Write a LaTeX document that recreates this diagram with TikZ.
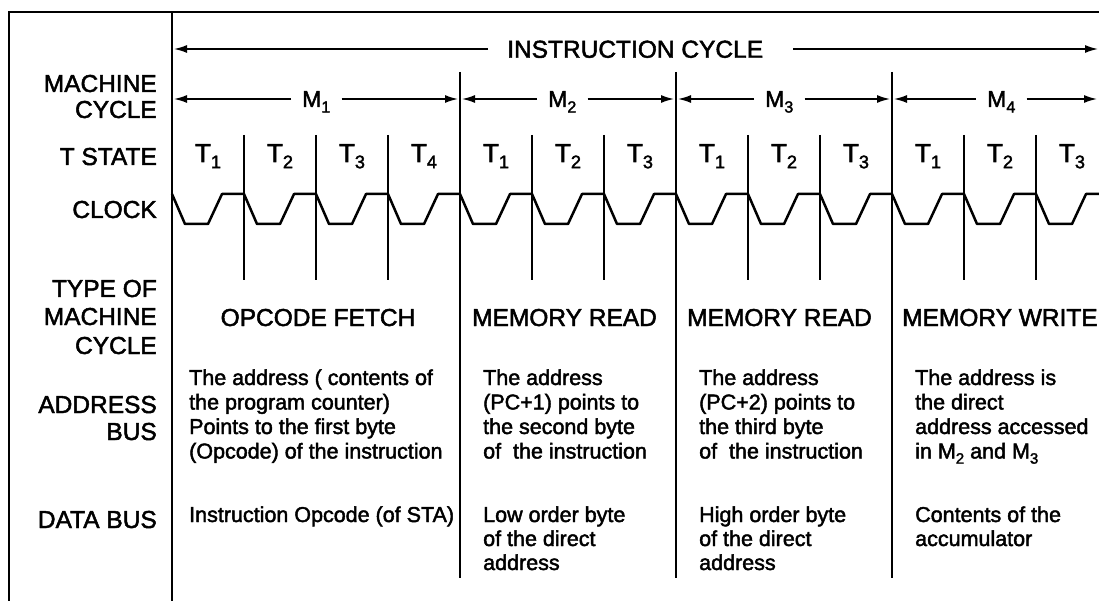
\documentclass[tikz,border=0pt]{standalone}
\usepackage{fontspec}
\usepackage{graphicx}
\setmainfont{Liberation Sans}[FakeBold=2]
\usetikzlibrary{arrows.meta}
\newcommand\lowsub[1]{\raisebox{-0.24em}{\scalebox{0.7}{#1}}}
\begin{document}
\begin{tikzpicture}[x=1pt,y=-1pt,
  lbl/.style={font=\fontsize{24.5}{27}\selectfont, inner sep=0pt, anchor=base east},
  hdr/.style={font=\fontsize{24.5}{27}\selectfont, inner sep=0pt},
  body/.style={font=\fontsize{21.5}{24.5}\selectfont, inner sep=0pt, anchor=base west},
  tlab/.style={font=\fontsize{26}{28}\selectfont, inner sep=0pt, anchor=base},
  mlab/.style={font=\fontsize{23}{24}\selectfont, inner ysep=0pt, inner xsep=11pt, anchor=west, text height=16pt, text depth=0pt},
  arr/.style={line width=1.6pt, -{Latex[length=13pt,width=8pt]}},
  framel/.style={line width=2pt},
  tdiv/.style={line width=1.5pt},
  clk/.style={line width=2.5pt, line join=round}]
\useasboundingbox (0,0) rectangle (1099,601);
\fill[white] (0,0) rectangle (1099,601);
% frame
\coordinate (tl) at (9,12); \coordinate (tr) at (1099,12); \coordinate (bl) at (9,601);
\draw[framel] (bl) -- (tl) -- (tr);
\coordinate (vt) at (172,12); \coordinate (vb) at (172,601);
\draw[framel] (vt) -- (vb);
% machine cycle boundaries
\foreach \x in {460,676,892} { \draw[framel] (\x,72) -- (\x,578); }
% T state dividers
\foreach \x in {244,316,388,532,604,748,820,964,1036} { \draw[tdiv] (\x,135) -- (\x,280); }
% left labels
\node[lbl] (lmc1) at (157,92) {MACHINE};
\node[lbl] (lmc2) at (157,118) {CYCLE};
\node[lbl] (lts) at (157,165) {T STATE};
\node[lbl] (lclk) at (157,218) {CLOCK};
\node[lbl] (lty1) at (157,297) {TYPE OF};
\node[lbl] (lty2) at (157,325) {MACHINE};
\node[lbl] (lty3) at (157,354) {CYCLE};
\node[lbl] (lab1) at (157,413) {ADDRESS};
\node[lbl] (lab2) at (157,440) {BUS};
\node[lbl] (ldb) at (157,528) {DATA BUS};
% instruction cycle
\node[hdr, anchor=west, inner xsep=19pt, text height=17.5pt, text depth=0pt] (ic) at (488,49) {INSTRUCTION CYCLE};
\coordinate (icL) at (174,49); \coordinate (icR) at (1098,49);
\draw[arr] (ic.west) -- (icL);
\draw[arr] ([xshift=11pt]ic.east) -- (icR);
% machine cycles
\node[mlab] (M1) at (291,99) {M\lowsub{1}};
\node[mlab] (M2) at (537,99) {M\lowsub{2}};
\node[mlab] (M3) at (754,99) {M\lowsub{3}};
\node[mlab] (M4) at (976,99) {M\lowsub{4}};
\coordinate (m1L) at (174,99); \coordinate (m1R) at (458,99);
\coordinate (m2L) at (462,99); \coordinate (m2R) at (674,99);
\coordinate (m3L) at (678,99); \coordinate (m3R) at (890,99);
\coordinate (m4L) at (894,99); \coordinate (m4R) at (1097,99);
\draw[arr] (M1.west) -- (m1L); \draw[arr] (M1.east) -- (m1R);
\draw[arr] (M2.west) -- (m2L); \draw[arr] (M2.east) -- (m2R);
\draw[arr] (M3.west) -- (m3L); \draw[arr] (M3.east) -- (m3R);
\draw[arr] (M4.west) -- (m4L); \draw[arr] (M4.east) -- (m4R);
% T states
\node[tlab] (t11) at (208,162) {T\lowsub{1}};
\node[tlab] (t12) at (280,162) {T\lowsub{2}};
\node[tlab] (t13) at (352,162) {T\lowsub{3}};
\node[tlab] (t14) at (424,162) {T\lowsub{4}};
\node[tlab] (t21) at (496,162) {T\lowsub{1}};
\node[tlab] (t22) at (568,162) {T\lowsub{2}};
\node[tlab] (t23) at (640,162) {T\lowsub{3}};
\node[tlab] (t31) at (712,162) {T\lowsub{1}};
\node[tlab] (t32) at (784,162) {T\lowsub{2}};
\node[tlab] (t33) at (856,162) {T\lowsub{3}};
\node[tlab] (t41) at (928,162) {T\lowsub{1}};
\node[tlab] (t42) at (1000,162) {T\lowsub{2}};
\node[tlab] (t43) at (1072,162) {T\lowsub{3}};
% clock
\draw[clk] (172,194)
  \foreach \k in {0,...,11} {
    -- ({172+72*\k+13},224) -- ({172+72*\k+36},224) -- ({172+72*\k+50},194) -- ({172+72*\k+72},194)
  }
  -- (1049,224) -- (1072,224) -- (1086,194) -- (1099,194);
% type of machine cycle
\node[hdr, anchor=base] (ty1) at (318,326) {OPCODE FETCH};
\node[hdr, anchor=base west] (ty2) at (472,326) {MEMORY READ};
\node[hdr, anchor=base west] (ty3) at (687,326) {MEMORY READ};
\node[hdr, anchor=base west] (ty4) at (902,326) {MEMORY WRITE};
% address bus
\node[body] (a11) at (189,385) {The address ( contents of};
\node[body] (a12) at (189,409.5) {the program counter)};
\node[body] (a13) at (189,434) {Points to the first byte};
\node[body] (a14) at (189,458.5) {(Opcode) of the instruction};
\node[body] (a21) at (483,385) {The address};
\node[body] (a22) at (483,409.5) {(PC+1) points to};
\node[body] (a23) at (483,434) {the second byte};
\node[body] (a24) at (483,458.5) {of~~the instruction};
\node[body] (a31) at (699,385) {The address};
\node[body] (a32) at (699,409.5) {(PC+2) points to};
\node[body] (a33) at (699,434) {the third byte};
\node[body] (a34) at (699,458.5) {of~~the instruction};
\node[body] (a41) at (915,385) {The address is};
\node[body] (a42) at (915,409.5) {the direct};
\node[body] (a43) at (915,434) {address accessed};
\node[body] (a44) at (915,458.5) {in M\lowsub{2} and M\lowsub{3}};
% data bus
\node[body] (d11) at (189,522) {Instruction Opcode (of STA)};
\node[body] (d21) at (483,522) {Low order byte};
\node[body] (d22) at (483,546) {of the direct};
\node[body] (d23) at (483,570) {address};
\node[body] (d31) at (699,522) {High order byte};
\node[body] (d32) at (699,546) {of the direct};
\node[body] (d33) at (699,570) {address};
\node[body] (d41) at (915,522) {Contents of the};
\node[body] (d42) at (915,546) {accumulator};
\end{tikzpicture}
\end{document}
